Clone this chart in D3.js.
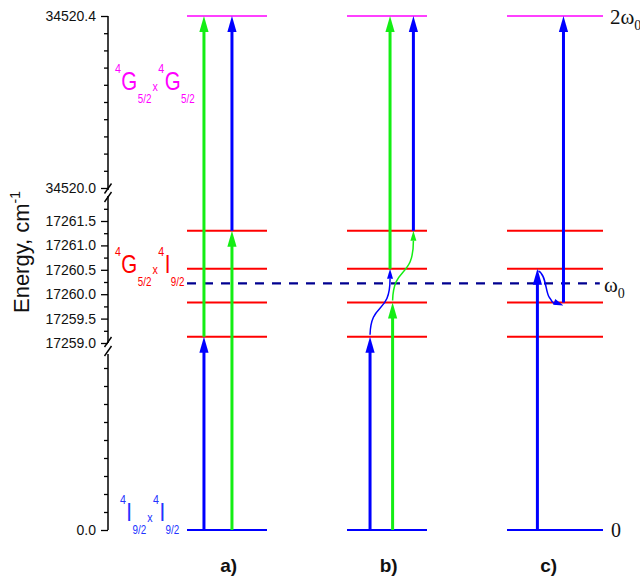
<!DOCTYPE html>
<html><head><meta charset="utf-8">
<script src="https://cdn.jsdelivr.net/npm/d3@7/dist/d3.min.js"></script>
<style>body{margin:0;background:#fff}svg{display:block}</style>
</head><body>
<svg id="c" width="640" height="578"></svg>
<script>
// ---- data ----
const groundLevel = 0.0;
const midLevels = [17259.13, 17259.83, 17260.52, 17261.30];
const topLevel = 34520.4;
const virtualLevel = 17260.22;
const topTicks = d3.range(0, 11).map(i => 34520.0 + i * 0.04);
const topLabels = [34520.0, 34520.4];
const midTicks = d3.range(0, 12).map(i => 17259.0 + i * 0.25);
const midLabels = [17259.0, 17259.5, 17260.0, 17260.5, 17261.0, 17261.5];
const botTicks = d3.range(0, 10);
const botLabels = [0];
const columns = ["a)", "b)", "c)"];
const columnWidths = [0.5, 0.5, 0.6];
// straight transitions: column position (in column units), from, to, colour
const arrows = [
  {x:0.106, from:0, to:17259.13, c:"blue"},
  {x:0.106, from:17259.13, to:34520.4, c:"green"},
  {x:0.281, from:0, to:17261.30, c:"green"},
  {x:0.281, from:17261.30, to:34520.4, c:"blue"},
  {x:1.144, from:0, to:17259.13, c:"blue"},
  {x:1.269, from:17260.52, to:34520.4, c:"green"},
  {x:1.285, from:0, to:17259.83, c:"green"},
  {x:1.415, from:17261.30, to:34520.4, c:"blue"},
  {x:2.19, from:0, to:17260.52, c:"blue"},
  {x:2.353, from:17259.83, to:34520.4, c:"blue"}
];
// curved (relaxation) transitions
const curves = [
  {x0:1.144, e0:17259.13, x1:1.269, e1:17260.52, c:"blue", kind:"up"},
  {x0:1.285, e0:17259.83, x1:1.415, e1:17261.30, c:"green", kind:"up"},
  {x0:2.19, e0:17260.52, x1:2.353, e1:17259.83, c:"blue", kind:"down"}
];
const termMagenta = [{t:"4",k:"sup"},{t:"G",k:"big"},{t:"5/2",k:"sub"},{t:"x",k:"x"},{t:"4",k:"sup"},{t:"G",k:"big"},{t:"5/2",k:"sub"}];
const termRed = [{t:"4",k:"sup"},{t:"G",k:"big"},{t:"5/2",k:"sub"},{t:"x",k:"x"},{t:"4",k:"sup"},{t:"I",k:"big"},{t:"9/2",k:"sub"}];
const termBlue = [{t:"4",k:"sup"},{t:"I",k:"big"},{t:"9/2",k:"sub"},{t:"x",k:"x"},{t:"4",k:"sup"},{t:"I",k:"big"},{t:"9/2",k:"sub"}];
const colors = {blue:"#0000ff", green:"#14ee14", red:"#ff0000", magenta:"#ff00ff", navy:"#000090", term:"#2233ff"};

// ---- scales ----
const svg = d3.select("#c");
const axisX = 108;
const yTop = d3.scaleLinear().domain([34520.0, 34520.4]).range([188, 16]);
const yMid = d3.scaleLinear().domain([17259.0, 17262.0]).range([343, 196.6]);
const yBot = d3.scaleLinear().domain([0, 10]).range([530, 350]);
const Y = v => v >= 30000 ? yTop(v) : (v >= 10000 ? yMid(v) : yBot(v));
const X = d3.scaleLinear().domain([0, 1]).range([187, 347]);
const sans = "Liberation Sans, Arial, sans-serif";

// ---- axis segments ----
function segment(scale, ticks, labels, fmt, y0, y1) {
  const isLab = d => labels.some(l => Math.abs(l - d) < 1e-6);
  const g = svg.append("g").attr("transform", `translate(${axisX},0)`);
  g.call(d3.axisLeft(scale).tickValues(ticks).tickSize(4).tickFormat(d => isLab(d) ? fmt(d) : ""));
  g.select(".domain").remove();
  g.append("line").attr("x1",0).attr("x2",0).attr("y1",y0).attr("y2",y1)
    .attr("stroke","#000").attr("stroke-width",1.5);
  g.selectAll(".tick line").attr("stroke","#000").attr("stroke-width",1.3)
    .attr("x2", d => isLab(d) ? -7 : -4);
  g.selectAll(".tick text").attr("font-family",sans)
    .attr("font-size", 14).attr("fill","#111").attr("x",-12);
  return g;
}
segment(yTop, topTicks, topLabels, d3.format(".1f"), yTop(34520.4), 190);
segment(yMid, midTicks, midLabels, d3.format(".1f"), 196, yMid(17259.0));
segment(yBot, botTicks, botLabels, d3.format(".1f"), 354, yBot(0));
// break marks
[188.5, 197, 342, 351].forEach(cy => {
  svg.append("line").attr("x1", axisX - 3.5).attr("y1", cy + 5).attr("x2", axisX + 3.5).attr("y2", cy - 5)
    .attr("stroke","#000").attr("stroke-width",1.4);
});

// axis title
const title = svg.append("text").attr("transform","translate(29,252) rotate(-90)")
  .attr("text-anchor","middle").attr("font-family",sans)
  .attr("font-size",22).attr("fill","#111");
title.append("tspan").text("Energy, cm");
title.append("tspan").attr("dy",-9).attr("font-size",14).text("-1");

// ---- levels ----
columns.forEach((col, i) => {
  const x0 = X(i), x1 = X(i + columnWidths[i]);
  svg.append("line").attr("x1",x0).attr("x2",x1).attr("y1",Y(topLevel)).attr("y2",Y(topLevel))
    .attr("stroke",colors.magenta).attr("stroke-width",1.6);
  midLevels.forEach(e => svg.append("line").attr("x1",x0).attr("x2",x1).attr("y1",Y(e)).attr("y2",Y(e))
    .attr("stroke",colors.red).attr("stroke-width",2));
  svg.append("line").attr("x1",x0).attr("x2",x1).attr("y1",Y(groundLevel)).attr("y2",Y(groundLevel))
    .attr("stroke",colors.blue).attr("stroke-width",2.2);
  svg.append("text").attr("x", X(i + 0.26)).attr("y", 572).attr("text-anchor","middle")
    .attr("font-family",sans).attr("font-weight","bold")
    .attr("font-size",19).attr("fill","#111").text(col);
});
svg.append("line").attr("x1",X(0)).attr("x2",X(2.58)).attr("y1",Y(virtualLevel)).attr("y2",Y(virtualLevel))
  .attr("stroke",colors.navy).attr("stroke-width",2.2).attr("stroke-dasharray","9,8");

// ---- arrows ----
const headL = 16, headW = 4.6;
arrows.forEach(a => {
  const x = X(a.x), yb = Y(a.from), yt = Y(a.to);
  svg.append("line").attr("x1",x).attr("x2",x).attr("y1",yb).attr("y2",yt + headL - 2)
    .attr("stroke",colors[a.c]).attr("stroke-width",3);
  svg.append("path").attr("d",`M${x},${yt} L${x-headW},${yt+headL} L${x+headW},${yt+headL} Z`)
    .attr("fill",colors[a.c]);
});
curves.forEach(cv => {
  const xa = X(cv.x0), ya = Y(cv.e0), xb = X(cv.x1), yb = Y(cv.e1);
  let d, tip, dir;
  if (cv.kind === "up") {
    const ys = ya - 2;
    const ye = yb + 10;
    d = `M${xa},${ys} C${xa+1},${ys-(ys-ye)*0.6} ${xb},${ys-(ys-ye)*0.35} ${xb},${ye}`;
    tip = [xb, yb]; dir = [0, -1];
  } else {
    d = `M${xa+1},${ya+2} C${xa+9},${ya+6} ${xa+8},${yb-10} ${xa+12},${yb-5} S${xb-12},${yb+1} ${xb-7},${yb+1.5}`;
    tip = [xb, yb + 3]; dir = [0.9, 0.35];
  }
  svg.append("path").attr("d", d).attr("fill","none").attr("stroke",colors[cv.c]).attr("stroke-width",1.5);
  const L = 10, W = 3;
  const n = Math.hypot(dir[0], dir[1]); const ux = dir[0]/n, uy = dir[1]/n;
  const bx = tip[0] - ux*L, by = tip[1] - uy*L;
  svg.append("path").attr("d",`M${tip[0]},${tip[1]} L${bx - uy*W},${by + ux*W} L${bx + uy*W},${by - ux*W} Z`)
    .attr("fill",colors[cv.c]);
});

// ---- term labels ----
function term(x, y, parts, color) {
  const g = svg.append("g").attr("fill", color).attr("font-family",sans)
    .attr("transform", `translate(${x},${y}) scale(0.82,1)`);
  let cx = 0;
  parts.forEach(p => {
    let fs, dy, gap;
    if (p.k === "sup") { fs = 13; dy = -17.5; gap = 0.5; }
    else if (p.k === "big") { fs = 25; dy = 0; gap = 0.5; }
    else if (p.k === "sub") { fs = 12; dy = 13; gap = 1.5; }
    else { fs = 13; dy = 1; gap = 0.5; }
    const t = g.append("text").attr("x", cx).attr("y", dy).attr("font-size", fs).text(p.t);
    cx += t.node().getComputedTextLength() + gap;
  });
}
term(115, 90, termMagenta, colors.magenta);
term(115, 273, termRed, colors.red);
term(120, 521, termBlue, colors.term);

// ---- right labels ----
const serif = "Liberation Serif, Times New Roman, serif";
const r1 = svg.append("text").attr("x",610).attr("y",Y(topLevel)+8).attr("font-family",serif).attr("font-size",21).attr("fill","#111");
r1.append("tspan").text("2ω");
r1.append("tspan").attr("dy",6).attr("font-size",14).text("0");
const r2 = svg.append("text").attr("x",604).attr("y",Y(virtualLevel)+9).attr("font-family",serif).attr("font-size",21).attr("fill","#111");
r2.append("tspan").text("ω");
r2.append("tspan").attr("dy",6).attr("font-size",14).text("0");
svg.append("text").attr("x",611).attr("y",Y(groundLevel)+7).attr("font-family",serif).attr("font-size",20).attr("fill","#111").text("0");
</script>
</body></html>
